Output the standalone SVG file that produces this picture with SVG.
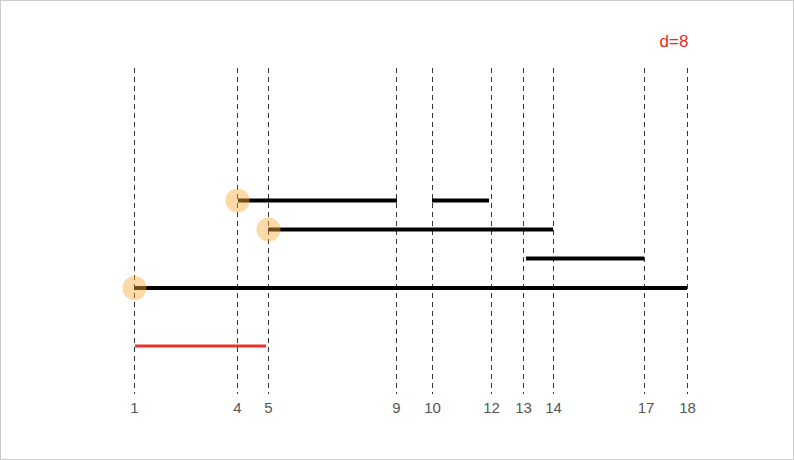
<svg xmlns="http://www.w3.org/2000/svg" width="794" height="460" viewBox="0 0 794 460">
<style>
.grid line{stroke:#333;stroke-width:1;stroke-dasharray:5,4}
.bar{stroke:#000;stroke-width:4}
.dot{fill:rgb(250,170,60);fill-opacity:0.45}
.lbl{font-family:"Liberation Sans",Arial,sans-serif;font-size:15px;fill:#555;text-anchor:middle}
</style>
<rect x="0.5" y="0.5" width="793" height="459" fill="#fff" stroke="#ccc"/>
<g class="grid">
<line x1="134.5" y1="68" x2="134.5" y2="394"/>
<line x1="237.5" y1="68" x2="237.5" y2="394"/>
<line x1="268.5" y1="68" x2="268.5" y2="394"/>
<line x1="396.5" y1="68" x2="396.5" y2="394"/>
<line x1="432.5" y1="68" x2="432.5" y2="394"/>
<line x1="491.5" y1="68" x2="491.5" y2="394"/>
<line x1="523.5" y1="68" x2="523.5" y2="394"/>
<line x1="553.5" y1="68" x2="553.5" y2="394"/>
<line x1="644.5" y1="68" x2="644.5" y2="394"/>
<line x1="687.5" y1="68" x2="687.5" y2="394"/>
</g>
<g id="connectors">
<line class="bar" x1="238" y1="200.5" x2="397" y2="200.5"/>
<line class="bar" x1="432" y1="200.5" x2="489" y2="200.5"/>
<line class="bar" x1="268" y1="229.5" x2="553" y2="229.5"/>
<line class="bar" x1="526" y1="258.5" x2="644" y2="258.5"/>
<line class="bar" x1="134" y1="288" x2="687" y2="288"/>
<line x1="135" y1="346" x2="266" y2="346" stroke="#e8332a" stroke-width="3"/>
</g>
<g id="n1"><circle class="dot" cx="134.5" cy="288" r="12"/></g>
<g id="n4"><circle class="dot" cx="237.5" cy="200.5" r="12"/></g>
<g id="n5"><circle class="dot" cx="268.5" cy="229.5" r="12"/></g>
<g id="labels">
<text class="lbl" x="134.5" y="413">1</text>
<text class="lbl" x="237.5" y="413">4</text>
<text class="lbl" x="268.5" y="413">5</text>
<text class="lbl" x="396.5" y="413">9</text>
<text class="lbl" x="432.5" y="413">10</text>
<text class="lbl" x="491.5" y="413">12</text>
<text class="lbl" x="523.5" y="413">13</text>
<text class="lbl" x="553.5" y="413">14</text>
<text class="lbl" x="646" y="413">17</text>
<text class="lbl" x="687.5" y="413">18</text>
</g>
<text x="674" y="47" font-family="Liberation Sans,Arial,sans-serif" font-size="17" fill="#f0261e" text-anchor="middle">d=8</text>
</svg>
